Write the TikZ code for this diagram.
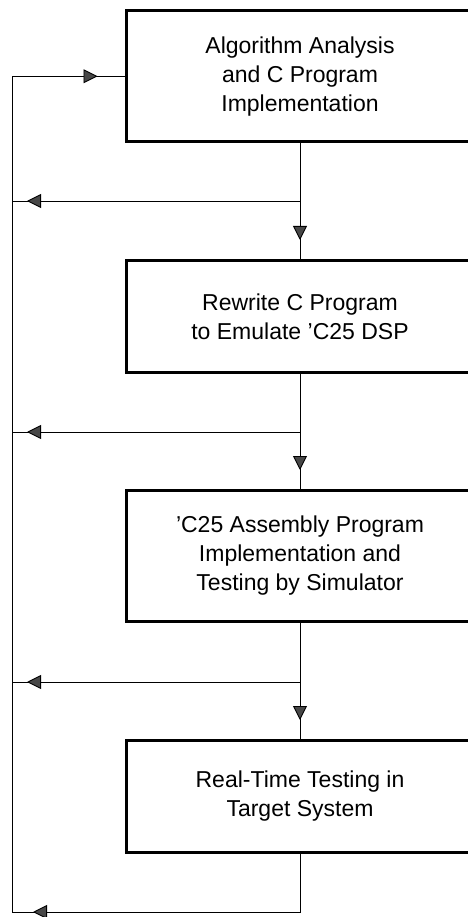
\documentclass[tikz,border=0pt]{standalone}
\usepackage{fontspec}
\setmainfont{Liberation Sans}
\usetikzlibrary{arrows.meta,decorations.markings}

\tikzset{
    stagebox/.style={draw, line width=3pt, minimum width=348pt, inner sep=0pt,
        align=center, font=\fontsize{23}{29}\selectfont},
    flowline/.style={line width=0.9pt},
    tipat/.style={postaction={decorate}, decoration={markings,
        mark=at position #1 with {\arrow{Triangle[length=14pt,width=14pt,fill=black!72]}}}},
}

\begin{document}
\begin{tikzpicture}[x=1pt,y=-1pt]
    \useasboundingbox (0,0) rectangle (467,917);
    % stages
    \node[stagebox, minimum height=130.5pt] (algo) at (300,76.25) {Algorithm Analysis\\and C Program\\Implementation};
    \node[stagebox, minimum height=112pt] (rewrite) at (300,316.5) {Rewrite C Program\\to Emulate ’C25 DSP};
    \node[stagebox, minimum height=131pt] (asm) at (300,556) {’C25 Assembly Program\\Implementation and\\Testing by Simulator};
    \node[stagebox, minimum height=112pt] (target) at (300,796.5) {Real-Time Testing in\\Target System};
    % branch points
    \coordinate (j1) at (300,201);
    \coordinate (j2) at (300,432);
    \coordinate (j3) at (300,682);
    \coordinate (l1) at (12,201);
    \coordinate (l2) at (12,432);
    \coordinate (l3) at (12,682);
    \coordinate (top) at (12,76.25);
    \coordinate (bot) at (12,912);
    \coordinate (end) at (300,912);
    % forward flow
    \draw[flowline, tipat=-19pt] (algo.south) -- (rewrite.north);
    \draw[flowline, tipat=-19pt] (rewrite.south) -- (asm.north);
    \draw[flowline, tipat=-19pt] (asm.south) -- (target.north);
    % feedback
    \draw[flowline, tipat=-15pt] (j1) -- (l1);
    \draw[flowline, tipat=-15pt] (j2) -- (l2);
    \draw[flowline, tipat=-15pt] (j3) -- (l3);
    \draw[flowline, tipat=-21pt] (target.south) -- (end) -- (bot);
    \draw[flowline, tipat=-27pt] (bot) -- (top) -- (algo.west);
\end{tikzpicture}
\end{document}
